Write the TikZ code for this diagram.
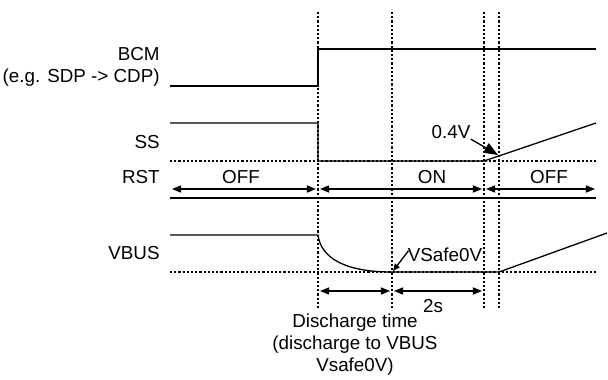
\documentclass[tikz,border=0pt]{standalone}
\usepackage{fontspec}
\setmainfont{Liberation Sans}
\usetikzlibrary{arrows.meta,calc}

\begin{document}
\begin{tikzpicture}[x=0.5pt,y=-0.5pt,>={Triangle[length=4.6pt,width=3.6pt]},font=\fontsize{9.4}{11}\selectfont,
  wave/.style={line width=0.65pt},
  guide/.style={line width=0.6pt,dash pattern=on 1.1pt off 1pt},
  sig/.style={inner sep=0pt,anchor=east},
  txt/.style={inner sep=0pt}]
\useasboundingbox (0,0) rectangle (608,379);
% time marks
\foreach \x in {318,392,484,499} \draw[guide] (\x,12) -- (\x,308);
\draw[guide] (170,161) -- (596,161);
\draw[guide] (170,272) -- (596,272);
% signal names
\node[sig,align=right] (bcm) at (160,67) {BCM\\(e.g. SDP -> CDP)};
\node[sig] (ss) at (160,142) {SS};
\node[sig] (rst) at (160,177) {RST};
\node[sig] (vbus) at (160,253) {VBUS};
% waveforms
\draw[wave] (170,86) -- (318,86) -- (318,49) -- (596,49);
\draw[wave] (170,123) -- (318,123) -- (318,161) -- (484,161) -- (596,123);
\draw[wave] (170,198) -- (596,198);
\draw[wave] (170,235) -- (318,235) .. controls (321,258) and (345,272) .. (392,272) -- (499,272) -- (607,233);
% RST states
\foreach \a/\b/\m/\t/\n in {172/316/241/OFF/off1,320/482/432/ON/on,486/595/549/OFF/off2}
 { \draw[wave,<->] (\a,189) -- (\b,189); \node[txt] (\n) at (\m,177) {\t}; }
% discharge timing
\draw[wave,<->] (320,291) -- (390,291);
\draw[wave,<->] (394,291) -- (482,291);
\node[txt] (twos) at (433,306) {2s};
\node[txt,align=center] (dtime) at (355,345) {Discharge time\\(discharge to VBUS\\Vsafe0V)};
% level marks
\coordinate (ssth) at (498,155);
\coordinate (vsafept) at (393,271);
\node[txt] (volt) at (451,132) {0.4V};
\draw[wave,-{Triangle[length=7pt,width=5.4pt]}] (volt.south east) -- (ssth);
\node[txt] (vsafe) at (445,255) {VSafe0V};
\draw[wave,-{Triangle[length=3.6pt,width=3pt]}] ($(vsafe.north west)+(1,3)$) -- (vsafept);
\end{tikzpicture}
\end{document}
